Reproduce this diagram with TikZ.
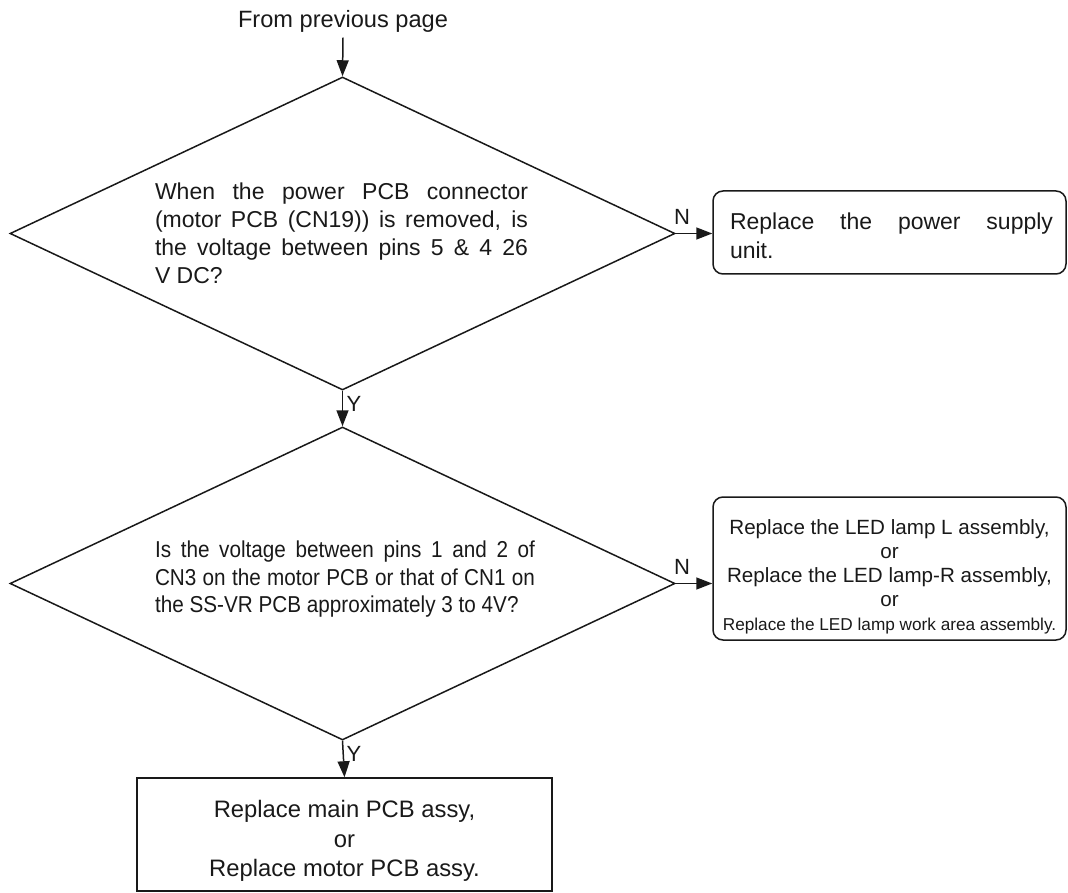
\documentclass[tikz,border=0pt]{standalone}
\usepackage{fontspec}
\setmainfont{Liberation Sans}
\newfontfamily\narrowfont[FakeStretch=0.9]{Liberation Sans}
\usetikzlibrary{shapes.geometric,arrows.meta}
\begin{document}
\begin{tikzpicture}[x=1pt,y=-1pt,
  line width=1.5pt,
  arr/.style={draw=black!90,-{Triangle[length=16pt,width=12pt]}},
  dec/.style={diamond,draw=black!90,inner sep=0pt,minimum width=665pt,minimum height=313pt},
  rbox/.style={draw=black!90,rounded corners=10pt,inner sep=0pt},
  sbox/.style={draw=black!90,inner sep=0pt},
  txt/.style={inner sep=0pt,text=black!90},
  lbl/.style={inner sep=0pt,text=black!90,font=\fontsize{22}{26}\selectfont}]
\useasboundingbox (0,0) rectangle (1068,893);

\node[txt,inner ysep=4pt,anchor=base,font=\fontsize{23.6}{28}\selectfont] (from) at (343,28) {From previous page};

\node[dec] (d1) at (342.5,233.5) {};
\node[txt,text width=373pt,align=justify,font=\fontsize{23}{28}\selectfont] (d1t) at (341.5,233) {When the power PCB connector\linebreak (motor PCB (CN19)) is removed, is\linebreak the voltage between pins 5 \& 4 26\linebreak V DC?};

\node[rbox,minimum width=353pt,minimum height=83pt] (b1) at (889.5,232.5) {};
\node[txt,text width=323pt,align=justify,font=\fontsize{23}{29}\selectfont] (b1t) at (891.5,236) {Replace the power supply\linebreak unit.};

\node[dec] (d2) at (342.5,583.5) {};
\node[txt,text width=380pt,align=justify,font=\narrowfont\fontsize{23}{27.5}\selectfont] (d2t) at (345,579.5) {Is the voltage between pins 1 and 2 of\linebreak CN3 on the motor PCB or that of CN1 on\linebreak the SS-VR PCB approximately 3 to 4V?};

\node[rbox,minimum width=353pt,minimum height=143pt] (b2) at (889.5,568.5) {};
\node[txt,align=center,font=\fontsize{20.6}{24}\selectfont] (b2t) at (889.5,577) {Replace the LED lamp L assembly,\\ or\\ Replace the LED lamp-R assembly,\\ or\\ {\fontsize{17.2}{24}\selectfont Replace the LED lamp work area assembly.}};

\node[sbox,minimum width=415pt,minimum height=113pt] (b3) at (344.5,834.5) {};
\node[txt,align=center,font=\fontsize{23.8}{29.5}\selectfont] (b3t) at (344.5,841) {Replace main PCB assy,\\ or\\ Replace motor PCB assy.};

\draw[arr] (from.south) -- (d1.north);
\draw[arr] (d1.east) -- (d1.east -| b1.west);
\draw[arr] (d1.south) -- (d2.north);
\draw[arr] (d2.east) -- (d2.east -| b2.west);
\draw[arr] (d2.south) -- (b3.north);

\node[lbl] (n1) at (682,217) {N};
\node[lbl] (n2) at (682,567) {N};
\node[lbl] (y1) at (354,404) {Y};
\node[lbl] (y2) at (354,754) {Y};
\end{tikzpicture}
\end{document}
